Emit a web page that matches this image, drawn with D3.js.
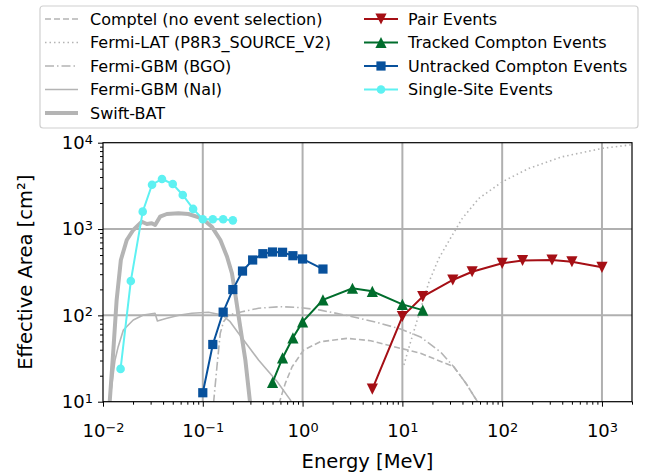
<!DOCTYPE html>
<html>
<head>
<meta charset="utf-8">
<script src="https://cdn.jsdelivr.net/npm/d3@7"></script>
<style>
  body { margin: 0; background: #fff; }
  svg { display: block; font-family: "DejaVu Sans", sans-serif; }
</style>
</head>
<body>
<svg id="chart"></svg>
<script>
// instrument points
const pairE = [5, 10, 16, 32, 50, 100, 160, 316, 500, 1000];
const pairA = [14, 97, 165, 257, 320, 401, 432, 438, 418, 360];

const trackedE = [0.5, 0.63, 0.8, 1.0, 1.6, 3.16, 5.0, 10, 16];
const trackedA = [16.7, 32.1, 55, 84, 151, 206, 190, 134, 115];

const untrackedE = [0.1, 0.126, 0.16, 0.2, 0.25, 0.316, 0.4, 0.5, 0.63, 0.8, 1.0, 1.6];
const untrackedA = [12.7, 46, 109, 199, 326, 438, 518, 542, 538, 491, 450, 344];

const singleE = [0.015, 0.019, 0.025, 0.031, 0.039, 0.05, 0.063, 0.08, 0.1, 0.126, 0.16, 0.2];
const singleA = [24, 250, 1590, 3260, 3800, 3320, 2480, 1710, 1300, 1300, 1300, 1260];

// reference instruments
const comptelE = [0.58, 0.671, 0.785, 1.026, 1.51, 2.8, 4.8, 8.22, 15.2, 32.7, 43.1, 58.2];
const comptelA = [9.5, 16.3, 25.4, 39.7, 49.5, 54.2, 50.9, 43.4, 36.4, 25.4, 16.5, 9.5];

const latE = [10.35, 12.1, 14.6, 18.5, 23.2, 31.7, 39.9, 58.6, 100.7, 186, 403, 1016, 1879, 2000];
const latA = [26.6, 49.5, 101, 245, 458, 853, 1331, 2270, 3534, 5055, 6886, 8610, 9400, 9450];

const bgoE = [0.128, 0.1386, 0.1496, 0.1614, 0.1811, 0.247, 0.362, 0.598, 0.951, 1.51, 2.8, 5.6, 9.59, 15.2, 24.2, 32.7, 43.1, 58.2];
const bgoA = [9.5, 25.4, 62, 84.5, 101, 110, 121, 126, 123, 115, 99.6, 82.7, 69.5, 56.2, 37.6, 25.4, 16.5, 9.5];

const naiE = [0.0113, 0.0122, 0.0132, 0.0142, 0.016, 0.0201, 0.0254, 0.0332, 0.0351, 0.0436, 0.0593, 0.0777, 0.114, 0.156, 0.188, 0.228, 0.288, 0.362, 0.424, 0.555, 0.753, 0.8];
const naiA = [9, 14.9, 30.4, 43.4, 67.7, 88.4, 101, 106, 86.1, 92.5, 101, 106, 108.6, 101, 84.5, 62, 43.4, 30.4, 24.5, 17.1, 10.5, 9];

const batE = [0.0116, 0.0127, 0.0137, 0.0151, 0.0173, 0.0201, 0.0245, 0.0275, 0.0308, 0.0333, 0.0373, 0.0436, 0.057, 0.0718, 0.098, 0.123, 0.15, 0.175, 0.196, 0.211, 0.237, 0.267, 0.3];
const batA = [9, 39.7, 151, 438, 747, 975, 1216, 1144, 1165, 1114, 1390, 1493, 1522, 1493, 1331, 1064, 747, 478, 307, 180, 74, 30.4, 9];

const xTicks = [0.01, 0.1, 1, 10, 100, 1000];
const yTicks = [10, 100, 1000, 10000];

const width = 647;
const height = 475;
const margin = { left: 103, right: 15, top: 142.7, bottom: 73.3 };

const svg = d3.select("#chart").attr("width", width).attr("height", height);

const x = d3.scaleLog().domain([0.01, 2000]).range([margin.left, width - margin.right]);
const y = d3.scaleLog().domain([10, 10000]).range([height - margin.bottom, margin.top]);

const grey = "#b4b4b4";

svg.append("clipPath").attr("id", "plot-clip")
  .append("rect")
  .attr("x", margin.left).attr("y", margin.top)
  .attr("width", x.range()[1] - x.range()[0])
  .attr("height", y.range()[0] - y.range()[1]);

// grid
svg.append("g").selectAll("line").data(xTicks.slice(1)).enter().append("line")
  .attr("x1", d => x(d)).attr("x2", d => x(d))
  .attr("y1", y.range()[0]).attr("y2", y.range()[1])
  .attr("stroke", "#b0b0b0").attr("stroke-width", 2);
svg.append("g").selectAll("line").data(yTicks.slice(1, -1)).enter().append("line")
  .attr("x1", x.range()[0]).attr("x2", x.range()[1])
  .attr("y1", d => y(d)).attr("y2", d => y(d))
  .attr("stroke", "#b0b0b0").attr("stroke-width", 2);

// minor ticks between decades
const minorOf = (lo, hi) => {
  let out = [];
  for (let p = lo; p < hi; p *= 10) {
    for (let k = 2; k <= 9; k++) out.push(p * k);
  }
  return out;
};

const plot = svg.append("g").attr("clip-path", "url(#plot-clip)");
const line = d3.line().x(d => x(d[0])).y(d => y(d[1]));
const zip = (a, b) => a.map((v, i) => [v, b[i]]);

const refs = [
  { e: comptelE, a: comptelA, dash: "6,3", w: 1.6 },
  { e: latE, a: latA, dash: "1.5,3", w: 1.6 },
  { e: bgoE, a: bgoA, dash: "9,3,1.5,3", w: 1.6 },
  { e: naiE, a: naiA, dash: null, w: 1.6 },
  { e: batE, a: batA, dash: null, w: 4 }
];
refs.forEach(r => {
  plot.append("path")
    .attr("d", line(zip(r.e, r.a)))
    .attr("fill", "none")
    .attr("stroke", grey)
    .attr("stroke-width", r.w)
    .attr("stroke-dasharray", r.dash)
    .attr("stroke-linejoin", "round");
});

const series = [
  { e: pairE, a: pairA, color: "#a50f15", marker: "down" },
  { e: trackedE, a: trackedA, color: "#006d2c", marker: "up" },
  { e: untrackedE, a: untrackedA, color: "#08519c", marker: "square" },
  { e: singleE, a: singleA, color: "#5ef1f2", marker: "circle" }
];

function drawMarker(g, type, color) {
  if (type === "circle") {
    g.append("circle").attr("r", 4.3).attr("fill", color);
  } else if (type === "square") {
    g.append("rect").attr("x", -4.6).attr("y", -4.6).attr("width", 9.2).attr("height", 9.2).attr("fill", color);
  } else {
    const flip = type === "down" ? -1 : 1;
    g.append("path")
      .attr("d", `M0,${-5.6 * flip}L${5.6},${5.6 * flip}L${-5.6},${5.6 * flip}Z`)
      .attr("fill", color);
  }
}

series.forEach(s => {
  const pts = zip(s.e, s.a);
  plot.append("path")
    .attr("d", line(pts))
    .attr("fill", "none")
    .attr("stroke", s.color)
    .attr("stroke-width", 2);
  plot.append("g").selectAll("g").data(pts).enter().append("g")
    .attr("transform", d => `translate(${x(d[0])},${y(d[1])})`)
    .each(function () { drawMarker(d3.select(this), s.marker, s.color); });
});

// axes
const sup = (d) => {
  const p = Math.round(Math.log10(d));
  return p < 0 ? "\u2212" + Math.abs(p) : String(p);
};
const putLabels = (sel) => {
  sel.selectAll(".tick text").each(function (d) {
    const t = d3.select(this).text("");
    t.append("tspan").text("10");
    t.append("tspan").attr("dy", "-0.42em").attr("font-size", "0.72em").text(sup(d));
  });
};

const xg = svg.append("g").attr("transform", `translate(0,${y.range()[0]})`);
xg.append("g").call(d3.axisBottom(x).tickValues(minorOf(0.01, 1000).concat([2000])).tickSize(3).tickFormat(""));
xg.append("g").call(d3.axisBottom(x).tickValues(xTicks).tickSize(5).tickPadding(18).tickFormat(d => d))
  .call(putLabels);
xg.selectAll("text").attr("font-size", 18).attr("font-family", "DejaVu Sans").attr("fill", "#000");

const yg = svg.append("g").attr("transform", `translate(${x.range()[0]},0)`);
yg.append("g").call(d3.axisLeft(y).tickValues(minorOf(10, 10000)).tickSize(3).tickFormat(""));
yg.append("g").call(d3.axisLeft(y).tickValues(yTicks).tickSize(5).tickPadding(5).tickFormat(d => d))
  .call(putLabels);
yg.selectAll("text").attr("font-size", 18).attr("font-family", "DejaVu Sans").attr("fill", "#000");

svg.selectAll(".domain").remove();
svg.selectAll(".tick line").attr("stroke", "#000").attr("stroke-width", 1);

// frame
svg.append("rect")
  .attr("x", x.range()[0]).attr("y", y.range()[1])
  .attr("width", x.range()[1] - x.range()[0])
  .attr("height", y.range()[0] - y.range()[1])
  .attr("fill", "none").attr("stroke", "#000").attr("stroke-width", 1.2);

svg.append("text")
  .attr("x", (x.range()[0] + x.range()[1]) / 2).attr("y", 468)
  .attr("text-anchor", "middle").attr("font-size", 19.5)
  .text("Energy [MeV]");

svg.append("text")
  .attr("transform", `translate(32,${(y.range()[0] + y.range()[1]) / 2}) rotate(-90)`)
  .attr("text-anchor", "middle").attr("font-size", 19.5)
  .text("Effective Area [cm\u00b2]");

// legend
const legend = svg.append("g");
legend.append("rect")
  .attr("x", 40).attr("y", 6).attr("width", 598).attr("height", 122)
  .attr("rx", 3).attr("fill", "#fff").attr("fill-opacity", 0.8)
  .attr("stroke", "#d0d0d0").attr("stroke-width", 1.2);

const leftItems = [
  { label: "Comptel (no event selection)", dash: "6,3", w: 1.6 },
  { label: "Fermi-LAT (P8R3_SOURCE_V2)", dash: "1.5,3", w: 1.6 },
  { label: "Fermi-GBM (BGO)", dash: "9,3,1.5,3", w: 1.6 },
  { label: "Fermi-GBM (NaI)", dash: null, w: 1.6 },
  { label: "Swift-BAT", dash: null, w: 4 }
];
const rightItems = [
  { label: "Pair Events", s: series[0] },
  { label: "Tracked Compton Events", s: series[1] },
  { label: "Untracked Compton Events", s: series[2] },
  { label: "Single-Site Events", s: series[3] }
];
const rowY = i => 19 + i * 23.5;

leftItems.forEach((it, i) => {
  legend.append("line")
    .attr("x1", 45).attr("x2", 78).attr("y1", rowY(i)).attr("y2", rowY(i))
    .attr("stroke", grey).attr("stroke-width", it.w).attr("stroke-dasharray", it.dash);
  legend.append("text").attr("x", 90).attr("y", rowY(i)).attr("dy", "0.35em")
    .attr("font-size", 16).text(it.label);
});
rightItems.forEach((it, i) => {
  legend.append("line")
    .attr("x1", 364).attr("x2", 398).attr("y1", rowY(i)).attr("y2", rowY(i))
    .attr("stroke", it.s.color).attr("stroke-width", 2);
  const m = legend.append("g").attr("transform", `translate(381,${rowY(i)})`);
  drawMarker(m, it.s.marker, it.s.color);
  legend.append("text").attr("x", 408).attr("y", rowY(i)).attr("dy", "0.35em")
    .attr("font-size", 16).text(it.label);
});
</script>
</body>
</html>
